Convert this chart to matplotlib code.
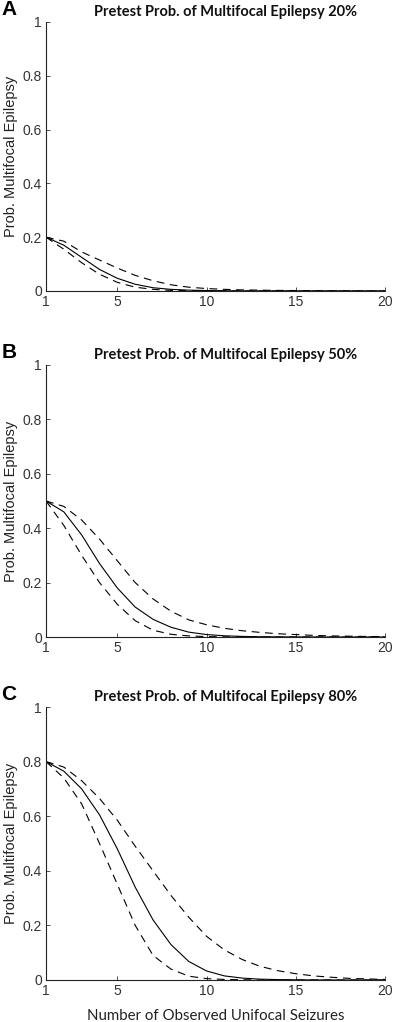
import matplotlib
matplotlib.use("Agg")
import matplotlib.pyplot as plt

x = list(range(1, 21))

# Panel A: pretest 20%
a_mid = [0.2, 0.17, 0.125, 0.08, 0.047, 0.025, 0.012, 0.006, 0.003, 0.0015,
         0.0007, 0.0003, 0.0002, 0.0001, 0, 0, 0, 0, 0, 0]
a_up = [0.2, 0.185, 0.145, 0.115, 0.085, 0.058, 0.038, 0.023, 0.014, 0.009,
        0.006, 0.004, 0.003, 0.002, 0.0015, 0.001, 0.0007, 0.0005, 0.0003, 0.0002]
a_lo = [0.2, 0.155, 0.105, 0.062, 0.032, 0.014, 0.006, 0.002, 0.001, 0.0003,
        0.0001, 0, 0, 0, 0, 0, 0, 0, 0, 0]

# Panel B: pretest 50%
b_mid = [0.5, 0.46, 0.375, 0.27, 0.18, 0.11, 0.065, 0.036, 0.018, 0.009,
         0.0045, 0.0022, 0.001, 0.0005, 0.0002, 0.0001, 0, 0, 0, 0]
b_up = [0.5, 0.48, 0.43, 0.36, 0.28, 0.2, 0.14, 0.095, 0.063, 0.045,
        0.032, 0.023, 0.017, 0.012, 0.009, 0.006, 0.004, 0.003, 0.002, 0.001]
b_lo = [0.5, 0.41, 0.3, 0.2, 0.12, 0.06, 0.025, 0.01, 0.004, 0.0015,
        0.0005, 0.0002, 0, 0, 0, 0, 0, 0, 0, 0]

# Panel C: pretest 80%
c_mid = [0.8, 0.765, 0.7, 0.605, 0.48, 0.34, 0.22, 0.13, 0.068, 0.033,
         0.015, 0.007, 0.003, 0.0015, 0.0007, 0.0003, 0.0001, 0, 0, 0]
c_up = [0.8, 0.78, 0.73, 0.665, 0.585, 0.49, 0.4, 0.31, 0.23, 0.16,
        0.11, 0.075, 0.05, 0.034, 0.023, 0.015, 0.01, 0.006, 0.004, 0.002]
c_lo = [0.8, 0.74, 0.645, 0.5, 0.35, 0.2, 0.09, 0.04, 0.014, 0.005,
        0.002, 0.001, 0, 0, 0, 0, 0, 0, 0, 0]

panels = [
    ("A", "Pretest Prob. of Multifocal Epilepsy 20%", a_mid, a_up, a_lo),
    ("B", "Pretest Prob. of Multifocal Epilepsy 50%", b_mid, b_up, b_lo),
    ("C", "Pretest Prob. of Multifocal Epilepsy 80%", c_mid, c_up, c_lo),
]

xticks = [1, 5, 10, 15, 20]
yticks = [0, 0.2, 0.4, 0.6, 0.8, 1]
ytick_labels = ["0", "0.2", "0.4", "0.6", "0.8", "1"]

fig = plt.figure(figsize=(4.0, 10.22), dpi=100)

# [left, bottom, width, height] in figure fraction
boxes = [
    [0.115, 0.7153, 0.8475, 0.2632],
    [0.115, 0.3767, 0.8475, 0.2662],
    [0.115, 0.0411, 0.8475, 0.2671],
]

tick_font = dict(family=["Liberation Sans", "DejaVu Sans"], size=10, color="#3a3a3a")

for (letter, title, mid, up, lo), box in zip(panels, boxes):
    ax = fig.add_axes(box)
    ax.plot(x, mid, color="black", lw=0.8, solid_joinstyle="miter")
    ax.plot(x, up, color="black", lw=0.8, ls=(0, (7, 5)))
    ax.plot(x, lo, color="black", lw=0.8, ls=(0, (7, 5)))
    ax.set_xlim(1, 20)
    ax.set_ylim(0, 1)
    ax.spines["top"].set_visible(False)
    ax.spines["right"].set_visible(False)
    for s in ("left", "bottom"):
        ax.spines[s].set_linewidth(0.8)
        ax.spines[s].set_color("#222222")
    ax.set_xticks(xticks)
    ax.set_xticklabels([str(t) for t in xticks], fontdict=tick_font)
    ax.set_yticks(yticks)
    ax.set_yticklabels(ytick_labels, fontdict=tick_font)
    ax.tick_params(direction="in", length=3, width=0.6, colors="#333333", pad=3)
    ax.set_ylabel("Prob. Multifocal Epilepsy", fontsize=10.5,
                  family=["Liberation Sans", "DejaVu Sans"], color="#222222", labelpad=3)
    ax.text(0.53, 1.01, title, transform=ax.transAxes, ha="center", va="bottom",
            fontsize=10.5, fontweight="bold", family=["Lato", "DejaVu Sans"], color="#111111")
    ax.text(-0.11, 1.01, letter, transform=ax.transAxes, ha="center", va="bottom",
            fontsize=15, fontweight="bold", family=["Liberation Sans", "DejaVu Sans"])
    if letter == "C":
        ax.set_xlabel("Number of Observed Unifocal Seizures", fontsize=10.8,
                      family=["Lato", "DejaVu Sans"], color="#222222", labelpad=8)

fig.savefig("out.png", dpi=100)
